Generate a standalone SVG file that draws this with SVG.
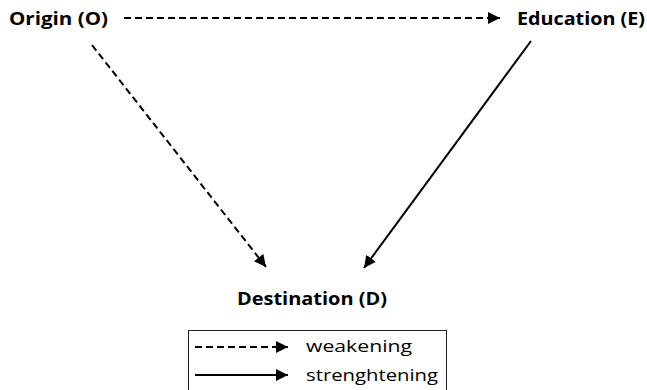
<svg xmlns="http://www.w3.org/2000/svg" width="647" height="390" viewBox="0 0 647 390">
<defs>
<marker id="ah" markerUnits="userSpaceOnUse" markerWidth="14" markerHeight="12" refX="12" refY="6" orient="auto"><path d="M0,0 L12,6 L0,12 Z" fill="#000"/></marker>
<style>
.lbl{font-family:"Open Sans","Liberation Sans",Arial,sans-serif;font-weight:bold;font-size:18px;fill:#000}
.leg{font-family:"Open Sans","Liberation Sans",Arial,sans-serif;font-size:17px;fill:#000}
.dash{stroke:#000;stroke-width:2;fill:none;stroke-dasharray:7,4}
.solid{stroke:#000;stroke-width:2;fill:none}
</style>
</defs>
<rect width="647" height="390" fill="#fff"/>
<g id="origin"><text class="lbl" x="9" y="25" textLength="99" lengthAdjust="spacingAndGlyphs">Origin (O)</text></g>
<g id="education"><text class="lbl" x="517" y="25" textLength="128" lengthAdjust="spacingAndGlyphs">Education (E)</text></g>
<g id="destination"><text class="lbl" x="237" y="305" textLength="150" lengthAdjust="spacingAndGlyphs">Destination (D)</text></g>
<g id="connectors">
<line class="dash" x1="124" y1="18" x2="500" y2="18" marker-end="url(#ah)"/>
<line class="dash" x1="92" y1="45" x2="266" y2="267" marker-end="url(#ah)"/>
<line class="solid" x1="531" y1="41" x2="364" y2="268" marker-end="url(#ah)"/>
</g>
<g id="legend">
<rect x="188.5" y="330.5" width="258" height="70" fill="none" stroke="#222" stroke-width="1"/>
<line class="dash" x1="195" y1="347" x2="288" y2="347" marker-end="url(#ah)"/>
<line class="solid" x1="195" y1="375" x2="288" y2="375" marker-end="url(#ah)"/>
<text class="leg" x="306" y="352" textLength="106" lengthAdjust="spacingAndGlyphs">weakening</text>
<text class="leg" x="306" y="381" textLength="132" lengthAdjust="spacingAndGlyphs">strenghtening</text>
</g>
</svg>
